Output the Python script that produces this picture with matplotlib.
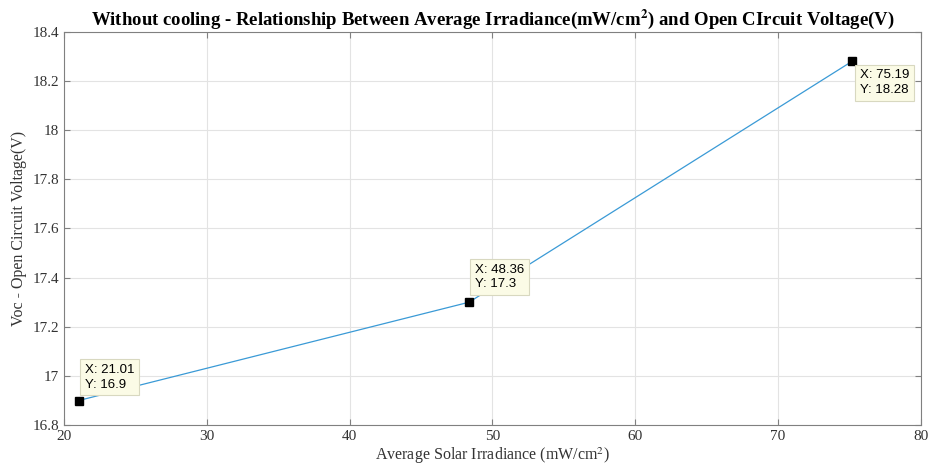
import numpy as np
import matplotlib.pyplot as plt

irradiance = [21.01, 48.36, 75.19]
voc = [16.9, 17.3, 18.28]
tip_offsets = [(6, 10, 'left', 'bottom'), (6, 12, 'left', 'bottom'), (8, -8, 'left', 'top')]

plt.rcParams['mathtext.fontset'] = 'stix'

fig, ax = plt.subplots(figsize=(9.3, 4.75), dpi=100)
fig.subplots_adjust(left=0.069, right=0.990, bottom=0.105, top=0.933)

ax.plot(irradiance, voc, color='#3a9ad6', linewidth=0.9)
ax.plot(irradiance, voc, linestyle='none', marker='s', markersize=6,
        color='black')

for x, y, (dx, dy, ha, va) in zip(irradiance, voc, tip_offsets):
    ax.annotate('X: %g\nY: %g' % (x, y), (x, y), xytext=(dx, dy),
                textcoords='offset pixels', ha=ha, va=va,
                fontsize=9.5, family='Liberation Sans', linespacing=1.3,
                bbox=dict(boxstyle='square,pad=0.35', fc='#fbfbe6',
                          ec='#d8d8c0', lw=0.8))

ax.set_xlim(20, 80)
ax.set_ylim(16.8, 18.4)
ax.set_xticks(np.arange(20, 81, 10))
ax.set_yticks(np.arange(16.8, 18.41, 0.2))
ax.set_yticklabels(['16.8', '17', '17.2', '17.4', '17.6', '17.8', '18', '18.2', '18.4'])

ax.grid(True, color='#e3e3e3', linewidth=0.8)
ax.set_axisbelow(True)
for s in ax.spines.values():
    s.set_color('#808080')
    s.set_linewidth(0.8)
ax.tick_params(direction='in', right=True, top=True, length=4,
               color='#808080', labelsize=11, labelcolor='#333333')
for lab in ax.get_xticklabels() + ax.get_yticklabels():
    lab.set_family('Liberation Serif')

ax.set_xlabel('Average Solar Irradiance (mW/cm$^2$)', family='Liberation Serif',
              fontsize=11.5, color='#333333', labelpad=2)
ax.set_ylabel('Voc - Open Circuit Voltage(V)', family='Liberation Serif',
              fontsize=11.5, color='#333333', labelpad=4)
ax.set_title('Without cooling - Relationship Between Average Irradiance(mW/cm$^\\mathbf{2}$) and Open CIrcuit Voltage(V)',
             family='Liberation Serif', fontweight='bold', fontsize=13.5, pad=5)

fig.savefig('out.png', dpi=100)
